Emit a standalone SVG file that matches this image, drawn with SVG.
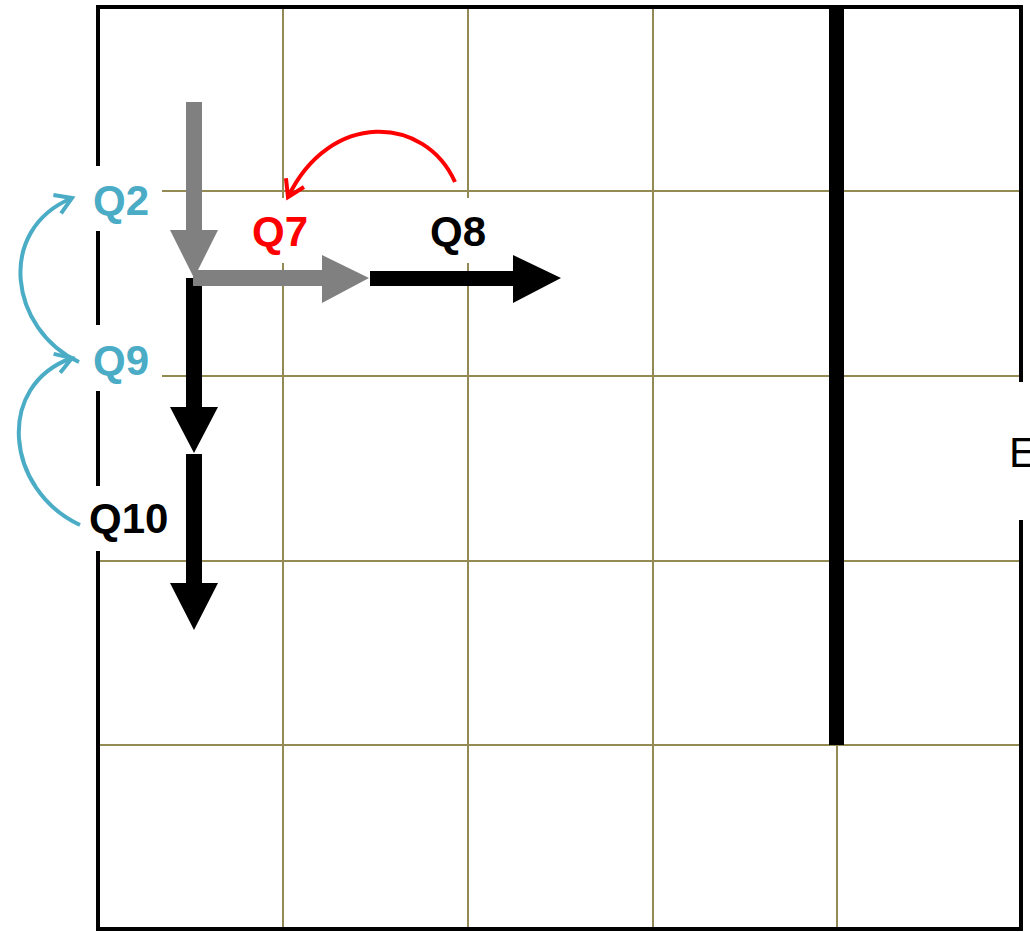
<svg xmlns="http://www.w3.org/2000/svg" width="1030" height="932" viewBox="0 0 1030 932">
<style>
.grid{stroke:#948a54;stroke-width:2;fill:none}
.wall{stroke:#000;stroke-width:4;fill:none}
.lbl{font-family:"Liberation Sans",Arial,sans-serif;font-weight:bold;font-size:42px}
.teal{fill:#4bacc6}
.curveT{stroke:#4bacc6;stroke-width:4;fill:none}
.curveR{stroke:#ff0000;stroke-width:4;fill:none}
</style>
<defs>
<marker id="chevT" markerUnits="userSpaceOnUse" orient="auto" refX="0" refY="0" markerWidth="30" markerHeight="30" viewBox="-20 -15 30 30" overflow="visible">
<path d="M -16 -10 L 0 0 L -16 10" stroke="#4bacc6" stroke-width="4" fill="none" stroke-linejoin="miter"/>
</marker>
<marker id="chevR" markerUnits="userSpaceOnUse" orient="auto" refX="0" refY="0" markerWidth="30" markerHeight="30" viewBox="-20 -15 30 30" overflow="visible">
<path d="M -16 -10 L 0 0 L -16 10" stroke="#ff0000" stroke-width="4" fill="none" stroke-linejoin="miter"/>
</marker>
</defs>
<rect width="1030" height="932" fill="#fff"/>
<g id="grid">
<line class="grid" x1="283" y1="7" x2="283" y2="198"/>
<line class="grid" x1="283" y1="263" x2="283" y2="929"/>
<line class="grid" x1="468" y1="7" x2="468" y2="198"/>
<line class="grid" x1="468" y1="263" x2="468" y2="929"/>
<line class="grid" x1="653" y1="7" x2="653" y2="929"/>
<line class="grid" x1="837" y1="7" x2="837" y2="929"/>
<line class="grid" x1="162" y1="191" x2="1021" y2="191"/>
<line class="grid" x1="162" y1="376" x2="1021" y2="376"/>
<line class="grid" x1="98" y1="561" x2="1021" y2="561"/>
<line class="grid" x1="98" y1="745" x2="1021" y2="745"/>
</g>
<g id="walls">
<line class="wall" x1="96" y1="7" x2="1023" y2="7"/>
<line class="wall" x1="96" y1="929" x2="1023" y2="929"/>
<line class="wall" x1="98" y1="5" x2="98" y2="166"/>
<line class="wall" x1="98" y1="231" x2="98" y2="325"/>
<line class="wall" x1="98" y1="391" x2="98" y2="486"/>
<line class="wall" x1="98" y1="551" x2="98" y2="931"/>
<line class="wall" x1="1021" y1="5" x2="1021" y2="382"/>
<line class="wall" x1="1021" y1="520" x2="1021" y2="931"/>
<rect id="inner-wall" x="829" y="7" width="15" height="738" fill="#000"/>
</g>
<g id="connectors">
<polygon id="black-down-1" fill="#000" points="186,278 202,278 202,407 218,407 194,453 170,407 186,407"/>
<polygon id="black-down-2" fill="#000" points="186,454 202,454 202,583 218,583 194,630 170,583 186,583"/>
<polygon id="gray-down" fill="#808080" points="186,102 202,102 202,230 218,230 194,278 170,230 186,230"/>
<polygon id="gray-right" fill="#808080" points="193,270 322,270 322,255 369,278 322,303 322,286 193,286"/>
<polygon id="black-right" fill="#000" points="370,271 513,271 513,255 561,278 513,303 513,286 370,286"/>
<path id="q9-to-q2" class="curveT" d="M 79 362 C 10 330, -5 230, 72 198" marker-end="url(#chevT)"/>
<path id="q10-to-q9" class="curveT" d="M 80 525 C 5 490, -5 385, 72 358" marker-end="url(#chevT)"/>
<path id="q8-to-q7" class="curveR" d="M 455 182 C 425 115, 330 110, 288 197" marker-end="url(#chevR)"/>
</g>
<g id="node-q2"><text class="lbl teal" x="93" y="215">Q2</text></g>
<g id="node-q9"><text class="lbl teal" x="93" y="375">Q9</text></g>
<g id="node-q10"><text class="lbl" x="89" y="533" fill="#000">Q10</text></g>
<g id="node-q7"><text class="lbl" x="252" y="246" fill="#ff0000">Q7</text></g>
<g id="node-q8"><text class="lbl" x="430" y="246" fill="#000">Q8</text></g>
<g id="node-e"><text x="1009" y="467" font-family="Liberation Sans, Arial, sans-serif" font-size="42" fill="#000">E</text></g>
</svg>
